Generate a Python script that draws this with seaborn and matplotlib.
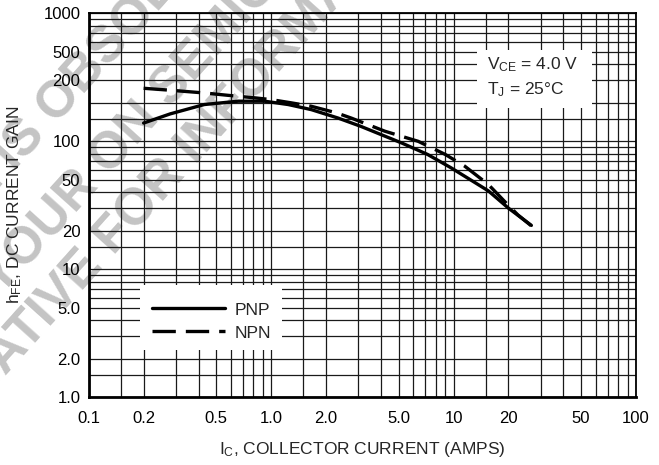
import pandas as pd
import matplotlib.pyplot as plt
import seaborn as sns
from matplotlib.ticker import FixedLocator, LogLocator, NullFormatter
from matplotlib.patches import Rectangle

# values (Ic in amps, hFE)
pnp_ic = [0.2, 0.28, 0.43, 0.66, 0.92, 1.24, 1.66, 2.33, 3.1, 5.2, 7.2, 9.7, 15.5, 20, 26.7]
pnp_hfe = [139, 164, 194, 206, 206, 194, 177, 152, 131, 97, 79, 62, 41, 30, 22]

npn_ic = [0.2, 0.28, 0.43, 0.58, 0.81, 1.0, 1.29, 1.66, 2.28, 2.75, 4.2, 6.4, 9.0, 11.5, 15.5, 19, 22.5, 26.7]
npn_hfe = [260, 251, 239, 229, 219, 212, 200, 188, 167, 152, 120, 100, 79, 64, 46, 34, 26.6, 21.8]

xtick_vals = [0.1, 0.2, 0.5, 1, 2, 5, 10, 20, 50, 100]
xtick_labels = ['0.1', '0.2', '0.5', '1.0', '2.0', '5.0', '10', '20', '50', '100']
# the "200" label sits on the 300 grid line in the original sheet
ytick_vals = [1, 2, 5, 10, 20, 50, 100, 300, 500, 1000]
ytick_labels = ['1.0', '2.0', '5.0', '10', '20', '50', '100', '200', '500', '1000']

df = pd.concat([
    pd.DataFrame({'Ic': pnp_ic, 'hFE': pnp_hfe, 'type': 'PNP'}),
    pd.DataFrame({'Ic': npn_ic, 'hFE': npn_hfe, 'type': 'NPN'}),
])

sns.set_style("white")
plt.rcParams['font.family'] = ['Liberation Sans', 'DejaVu Sans']
plt.rcParams['mathtext.default'] = 'regular'

fig, ax = plt.subplots(figsize=(6.59, 4.65), dpi=100)
fig.subplots_adjust(left=0.1346, right=0.9651, bottom=0.1462, top=0.971)

# faint watermark behind the grid
wm = dict(transform=fig.transFigure, rotation=48, rotation_mode='anchor', ha='center', va='center',
          fontsize=37, fontweight='bold', color='#c4c4c4', zorder=0.2, clip_on=False)
ax.text(0.012, 0.656, 'THIS DEVICE IS OBSOLETE', **wm)
ax.text(0.215, 0.742, 'CONTACT YOUR ON SEMICONDUCTOR', **wm)
ax.text(0.162, 0.475, 'REPRESENTATIVE FOR INFORMATION', **wm)

sns.lineplot(data=df, x='Ic', y='hFE', hue='type', style='type', hue_order=['PNP', 'NPN'],
             style_order=['PNP', 'NPN'], palette={'PNP': 'black', 'NPN': 'black'},
             dashes={'PNP': '', 'NPN': (7, 3)}, linewidth=2.4, estimator=None, sort=False,
             ax=ax, zorder=2)

ax.set_xscale('log')
ax.set_yscale('log')
ax.set_xlim(0.1, 100)
ax.set_ylim(1, 1000)

subs = (1.0, 1.5, 2, 3, 4, 5, 6, 7, 8, 9)
ax.xaxis.set_major_locator(FixedLocator(xtick_vals))
ax.xaxis.set_minor_locator(LogLocator(base=10, subs=subs, numticks=20))
ax.yaxis.set_major_locator(FixedLocator(ytick_vals))
ax.yaxis.set_minor_locator(LogLocator(base=10, subs=subs, numticks=20))
ax.set_xticklabels(xtick_labels)
ax.set_yticklabels(ytick_labels)
ax.xaxis.set_minor_formatter(NullFormatter())
ax.yaxis.set_minor_formatter(NullFormatter())

ax.grid(True, which='both', color='#1a1a1a', linewidth=0.9)
ax.set_axisbelow(True)
ax.tick_params(which='both', length=0, labelsize=12, colors='black')
ax.tick_params(axis='x', pad=10)
ax.tick_params(axis='y', pad=6)

for side in ['top', 'right']:
    ax.spines[side].set_linewidth(1.3)
    ax.spines[side].set_color('black')
for side in ['left', 'bottom']:
    ax.spines[side].set_linewidth(2.0)
    ax.spines[side].set_color('black')

ax.set_xlabel('I$_C$, COLLECTOR CURRENT (AMPS)', fontsize=12.5, labelpad=10)
ax.set_ylabel('h$_{FE}$, DC CURRENT GAIN', fontsize=12.5, labelpad=14)

# white boxes for the legend and the test conditions
ax.add_patch(Rectangle((0.0937, 0.1226), 0.2589, 0.1694, transform=ax.transAxes,
                       facecolor='white', edgecolor='none', zorder=3))
ax.add_patch(Rectangle((0.709, 0.7536), 0.21, 0.1512, transform=ax.transAxes,
                       facecolor='white', edgecolor='none', zorder=3))

ax.text(0.727, 0.8657, 'V$_{CE}$ = 4.0 V', transform=ax.transAxes, ha='left', va='center',
        fontsize=12.5, zorder=4)
ax.text(0.727, 0.8005, 'T$_J$ = 25°C', transform=ax.transAxes, ha='left', va='center',
        fontsize=12.5, zorder=4)

handles, labels = ax.get_legend_handles_labels()
leg = ax.legend(handles, labels, loc='center left', bbox_to_anchor=(0.1152, 0.197),
                frameon=False, fontsize=12.5, handlelength=4.2, handletextpad=0.6,
                labelspacing=0.45, borderpad=0, borderaxespad=0)
leg.set_zorder(5)

plt.savefig('out.png', dpi=100)
